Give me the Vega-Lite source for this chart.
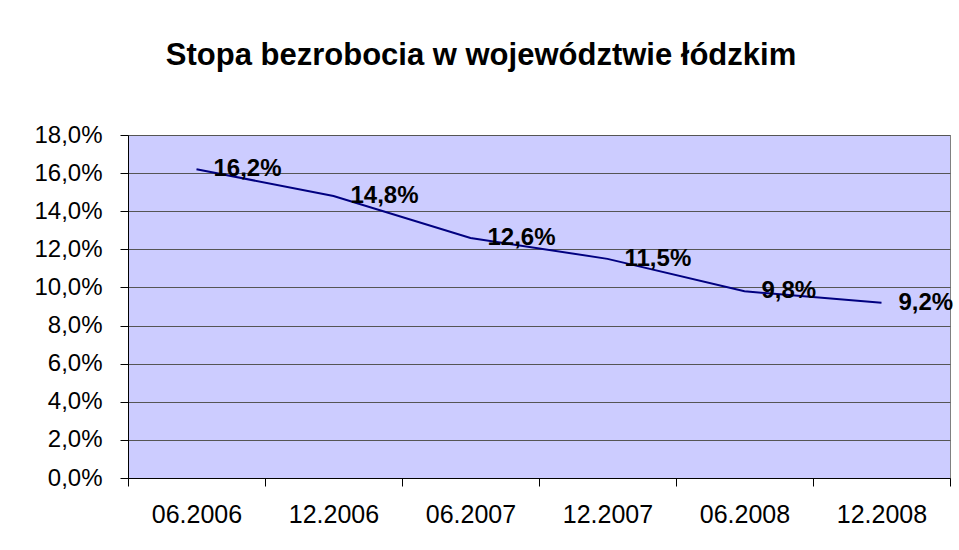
{
  "$schema": "https://vega.github.io/schema/vega-lite/v6.json",
  "width": 822,
  "height": 343,
  "autosize": "none",
  "padding": {"left": 128, "top": 135, "right": 9, "bottom": 72},
  "background": "white",
  "title": {
    "text": "Stopa bezrobocia w województwie łódzkim",
    "font": "Liberation Sans",
    "fontSize": 31,
    "fontWeight": "bold",
    "color": "black",
    "anchor": "middle",
    "dx": -58,
    "dy": 42,
    "baseline": "alphabetic",
    "offset": 69
  },
  "config": {
    "locale": {"number": {"decimal": ",", "thousands": " ", "grouping": [3], "currency": ["", " zł"]}},
    "view": {"fill": "#CCCCFF", "stroke": "#808080", "strokeWidth": 1}
  },
  "data": {
    "values": [
      {"period": "06.2006", "rate": 0.162},
      {"period": "12.2006", "rate": 0.148},
      {"period": "06.2007", "rate": 0.126},
      {"period": "12.2007", "rate": 0.115},
      {"period": "06.2008", "rate": 0.098},
      {"period": "12.2008", "rate": 0.092}
    ]
  },
  "encoding": {
    "x": {
      "field": "period",
      "type": "ordinal",
      "sort": null,
      "scale": {"type": "band", "paddingInner": 0, "paddingOuter": 0},
      "axis": {
        "title": null,
        "labelAngle": 0,
        "tickBand": "extent",
        "grid": false,
        "domainColor": "black",
        "tickColor": "black",
        "tickSize": 8,
        "labelFont": "Liberation Sans",
        "labelFontSize": 25,
        "labelColor": "black",
        "labelPadding": 16
      }
    },
    "y": {
      "field": "rate",
      "type": "quantitative",
      "scale": {"domain": [0, 0.18]},
      "axis": {
        "title": null,
        "values": [0, 0.02, 0.04, 0.06, 0.08, 0.1, 0.12, 0.14, 0.16, 0.18],
        "format": ".1%",
        "grid": true,
        "gridColor": "#555555",
        "domainColor": "black",
        "tickColor": "black",
        "tickSize": 8,
        "labelFont": "Liberation Sans",
        "labelFontSize": 24,
        "labelColor": "black",
        "labelPadding": 18
      }
    }
  },
  "layer": [
    {"mark": {"type": "line", "color": "#000080", "strokeWidth": 2}},
    {
      "mark": {"type": "text", "align": "left", "dx": 17, "baseline": "middle", "font": "Liberation Sans", "fontSize": 24, "fontWeight": "bold", "color": "black"},
      "encoding": {"text": {"field": "rate", "type": "quantitative", "format": ".1%"}}
    }
  ]
}
